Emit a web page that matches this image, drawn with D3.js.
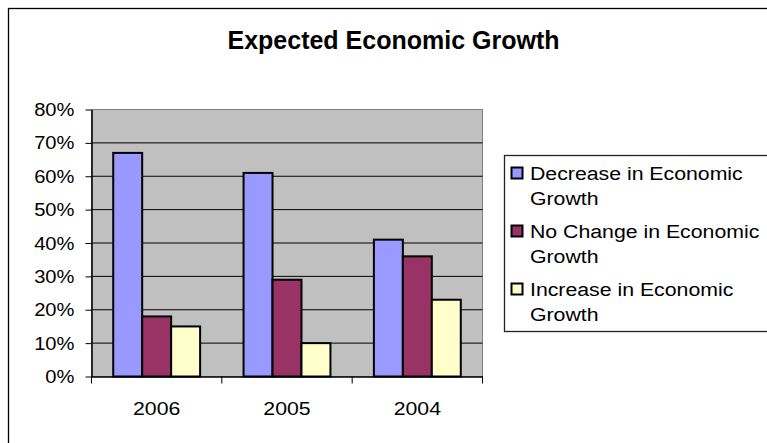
<!DOCTYPE html>
<html>
<head>
<meta charset="utf-8">
<script src="https://cdn.jsdelivr.net/npm/d3@7"></script>
<style>
  body { margin: 0; background: #fff; }
  svg text { font-family: "Liberation Sans", Arial, sans-serif; fill: #000; }
</style>
</head>
<body>
<svg width="767" height="443"></svg>
<script>
const years = ["2006", "2005", "2004"];
const seriesNames = ["Decrease in Economic Growth", "No Change in Economic Growth", "Increase in Economic Growth"];
const decrease = [67, 61, 41];
const noChange = [18, 29, 36];
const increase = [15, 10, 23];
const yTicks = [0, 10, 20, 30, 40, 50, 60, 70, 80];
const legendLines = [["Decrease in Economic", "Growth"], ["No Change in Economic", "Growth"], ["Increase in Economic", "Growth"]];
const colors = ["#9999ff", "#993366", "#ffffcc"];

const svg = d3.select("svg"),
    stretch = 1.12,
    plotLeft = 91.5, plotRight = 482.5, plotTop = 109.5, plotBottom = 376.5;

const values = [decrease, noChange, increase];

// chart frame
svg.append("rect")
    .attr("x", 8.5).attr("y", 8.5)
    .attr("width", 800).attr("height", 500)
    .attr("fill", "#fff").attr("stroke", "#000").attr("stroke-width", 1.3);

svg.append("text")
    .attr("x", 393.5).attr("y", 49)
    .attr("text-anchor", "middle")
    .style("font-size", "25px").style("font-weight", "bold")
    .text("Expected Economic Growth");

let x = d3.scaleBand().domain(years).range([plotLeft, plotRight]);
let xInner = d3.scaleBand().domain(d3.range(3)).range([0, x.bandwidth()]).paddingOuter(0.75);
let y = d3.scaleLinear().domain([0, 80]).range([plotBottom, plotTop]);

// plot area
svg.append("rect")
    .attr("x", plotLeft).attr("y", plotTop)
    .attr("width", plotRight - plotLeft).attr("height", plotBottom - plotTop)
    .attr("fill", "#c0c0c0").attr("stroke", "#808080").attr("stroke-width", 1);

svg.append("g")
    .selectAll("line")
    .data(yTicks.slice(1, -1))
    .enter()
    .append("line")
    .attr("x1", plotLeft).attr("x2", plotRight)
    .attr("y1", d => y(d)).attr("y2", d => y(d))
    .attr("stroke", "#000").attr("stroke-width", 1);

// bars
values.forEach((arr, i) => {
    svg.append("g")
        .selectAll("rect")
        .data(arr)
        .enter()
        .append("rect")
        .attr("x", (d, j) => x(years[j]) + xInner(i))
        .attr("y", d => y(d))
        .attr("width", xInner.bandwidth())
        .attr("height", d => plotBottom - y(d))
        .attr("fill", colors[i])
        .attr("stroke", "#000").attr("stroke-width", 2);
});

// y axis
let gy = svg.append("g")
    .attr("transform", `translate(${plotLeft},0)`)
    .call(d3.axisLeft(y).tickValues(yTicks).tickFormat(d => d + "%").tickSize(6).tickSizeOuter(0));
gy.select(".domain").attr("stroke", "#000").attr("stroke-width", 1.5);
gy.selectAll(".tick line").attr("stroke", "#000");
gy.selectAll(".tick text")
    .attr("x", null).attr("dy", null)
    .attr("transform", `translate(-17,6) scale(${stretch},1)`)
    .style("font-size", "18px");

// x axis
let gx = svg.append("g")
    .attr("transform", `translate(0,${plotBottom})`)
    .call(d3.axisBottom(x).tickSize(0).tickSizeOuter(0));
gx.select(".domain").attr("stroke", "#000").attr("stroke-width", 1.5);
gx.selectAll(".tick text")
    .attr("y", null).attr("dy", null)
    .attr("transform", `translate(0,38) scale(${stretch},1)`)
    .style("font-size", "19px");
gx.selectAll(".edge")
    .data(years.map(d => x(d)).concat([plotRight]))
    .enter()
    .append("line")
    .attr("x1", d => d).attr("x2", d => d)
    .attr("y1", 0).attr("y2", 7)
    .attr("stroke", "#000");

// legend
let legend = svg.append("g");
legend.append("rect")
    .attr("x", 504.5).attr("y", 155.5)
    .attr("width", 300).attr("height", 176)
    .attr("fill", "#fff").attr("stroke", "#222").attr("stroke-width", 1.3);

let items = legend.selectAll(".item")
    .data(seriesNames)
    .enter()
    .append("g")
    .attr("transform", (d, i) => `translate(0,${i * 58})`);

items.append("rect")
    .attr("x", 511.5).attr("y", 167.5)
    .attr("width", 11).attr("height", 11)
    .attr("fill", (d, i) => colors[i])
    .attr("stroke", "#000").attr("stroke-width", 2);

items.each(function (d, i) {
    d3.select(this).selectAll("text")
        .data(legendLines[i])
        .enter()
        .append("text")
        .attr("transform", (t, k) => `translate(530,${179.5 + k * 25}) scale(${stretch},1)`)
        .style("font-size", "19px")
        .text(t => t);
});
</script>
</body>
</html>
